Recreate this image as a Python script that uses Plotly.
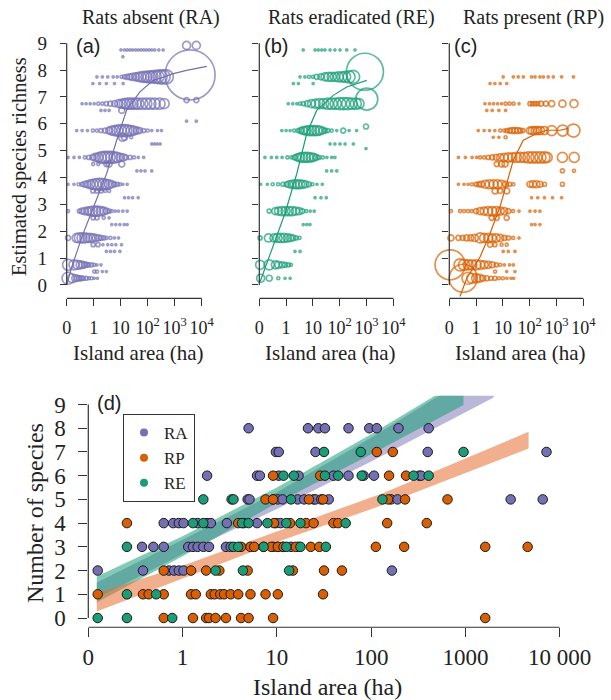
import plotly.graph_objects as go

W, H = 611, 700
PURPLE = "#7570b3"
ORANGE = "#d95f02"
GREEN = "#1b9e77"
INK = "#222222"
AXIS = "#333333"
SERIF = "Liberation Serif, Times New Roman, serif"
SANS = "Liberation Sans, Arial, sans-serif"

# ---- tick labels (x positions are log10 of island area; "0" sits one decade below 1 ha)
TOP_TICKVALS = [-1, 0, 1, 2, 3, 4]
TOP_TICKTEXT = ["0", "1", "10", "10<sup>2</sup>", "10<sup>3</sup>", "10<sup>4</sup>"]
D_TICKTEXT = ["0", "1", "10", "100", "1000", "10 000"]
RICHNESS_TICKS = list(range(10))

# ---- panels (a)-(c): estimated richness rows; each ring = (log10 area, ring diameter px)
A_RINGS = [
    (0.25, [(-0.95, 12), (-0.8, 9), (-0.68, 7), (-0.6, 6), (-0.53, 5), (-0.46, 5), (-0.38, 4), (-0.28, 4),
            (-0.18, 3), (-0.08, 3), (0.02, 2), (0.14, 2)]),
    (0.5, [(0.02, 3), (0.12, 3), (0.32, 2), (0.47, 2)]),
    (0.75, [(-0.95, 11), (-0.73, 10), (-0.6, 9), (-0.5, 8), (-0.42, 7), (-0.34, 6), (-0.26, 5), (-0.18, 4),
            (-0.08, 4), (0.02, 3), (0.12, 2), (0.27, 2)]),
    (1.25, [(0.47, 2), (0.62, 2), (0.77, 2), (0.97, 2)]),
    (1.5, [(-0.02, 4), (0.16, 4), (0.34, 2), (0.52, 2), (0.67, 2), (0.82, 2), (1.03, 2)]),
    (1.75, [(-0.95, 5), (-0.63, 9), (-0.53, 10), (-0.43, 10), (-0.33, 10), (-0.23, 9), (-0.13, 9), (-0.03, 8),
            (0.07, 7), (0.17, 6), (0.27, 5), (0.37, 4), (0.47, 3), (0.62, 3), (0.77, 2), (0.92, 2)]),
    (2.25, [(0.67, 2), (0.82, 2), (0.97, 2), (1.13, 2), (1.24, 2)]),
    (2.5, [(-0.02, 4), (0.12, 4), (0.37, 3), (0.57, 2)]),
    (2.75, [(-0.95, 3), (-0.53, 4), (-0.43, 6), (-0.33, 7), (-0.23, 8), (-0.13, 9), (-0.03, 10), (0.07, 10),
            (0.17, 10), (0.27, 9), (0.37, 8), (0.47, 6), (0.57, 4), (0.67, 3), (0.8, 2), (0.92, 2), (1.08, 2),
            (1.24, 2)]),
    (3.25, [(1.14, 2), (1.29, 2), (1.44, 2), (1.65, 2)]),
    (3.5, [(-0.03, 4), (0.12, 4), (0.27, 4), (0.42, 3), (0.57, 3)]),
    (3.75, [(-0.95, 2), (-0.73, 2), (-0.56, 3), (-0.43, 4), (-0.33, 6), (-0.23, 7), (-0.13, 9), (-0.03, 10),
            (0.07, 11), (0.17, 12), (0.27, 12), (0.37, 11), (0.47, 10), (0.57, 9), (0.67, 7), (0.77, 5),
            (0.87, 4), (0.97, 3), (1.08, 2), (1.24, 2)]),
    (4.25, [(1.6, 2), (1.75, 2), (1.9, 2), (2.15, 2)]),
    (4.5, [(-0.02, 3), (0.17, 3), (0.47, 5), (0.57, 6), (1.04, 6)]),
    (4.75, [(-0.95, 2), (-0.73, 2), (-0.53, 2), (-0.33, 3), (-0.18, 4), (-0.03, 6), (0.07, 8), (0.17, 9),
            (0.27, 11), (0.37, 12), (0.47, 12), (0.57, 12), (0.67, 12), (0.77, 11), (0.87, 10), (0.98, 8),
            (1.09, 7), (1.19, 5), (1.34, 4), (1.49, 3), (1.65, 2), (1.85, 2)]),
    (5.25, [(2.15, 2), (2.25, 2), (2.35, 2), (2.46, 2)]),
    (5.5, [(1.07, 8), (1.14, 6), (1.39, 3)]),
    (5.75, [(-0.63, 2), (-0.43, 2), (-0.23, 2), (-0.03, 3), (0.12, 3), (0.27, 4), (0.42, 5), (0.57, 7),
            (0.67, 9), (0.77, 10), (0.87, 11), (0.98, 12), (1.09, 12), (1.19, 12), (1.29, 11), (1.39, 10),
            (1.49, 9), (1.6, 7), (1.7, 6), (1.85, 4), (2.0, 3), (2.15, 2), (2.36, 2), (2.51, 2)]),
    (6.1, [(3.44, 2), (3.8, 2)]),
    (6.5, [(0.27, 2), (0.42, 2), (0.57, 2), (1.04, 6)]),
    (6.75, [(-0.43, 2), (-0.28, 2), (-0.13, 2), (0.02, 2), (0.17, 3), (0.32, 3), (0.47, 4), (0.62, 5),
            (0.77, 6), (0.93, 8), (1.04, 9), (1.14, 10), (1.24, 11), (1.34, 11), (1.44, 11), (1.55, 11),
            (1.65, 11), (1.8, 11), (1.95, 11), (2.1, 11), (2.26, 11), (2.44, 11), (2.61, 10)]),
    (6.88, [(3.44, 5), (3.8, 5)]),
    (7.5, [(-0.03, 2), (0.22, 2), (0.47, 2), (0.77, 2), (1.09, 2)]),
    (7.75, [(0.12, 2), (0.32, 2), (0.52, 2), (0.72, 2), (0.87, 2), (1.03, 3), (1.14, 4), (1.24, 5), (1.34, 6),
            (1.44, 7), (1.55, 8), (1.65, 9), (1.75, 10), (1.85, 11), (1.95, 11), (2.05, 12), (2.15, 12),
            (2.26, 13), (2.36, 13), (2.46, 14), (2.57, 14), (2.69, 14)]),
    (7.82, [(3.57, 50)]),
    (8.5, [(1.08, 2)]),
    (8.75, [(1.01, 2), (1.14, 2), (1.24, 2), (1.34, 2), (1.44, 2), (1.55, 2), (1.65, 2), (1.75, 2), (1.85, 2),
            (1.95, 2), (2.05, 2), (2.15, 2), (2.26, 2), (2.41, 2), (2.57, 2)]),
    (8.92, [(3.44, 8), (3.8, 8)]),
]

B_RINGS = [
    (0.25, [(-0.95, 8), (-0.63, 6), (-0.29, 3), (-0.04, 2), (0.15, 2)]),
    (0.75, [(-0.97, 9), (-0.63, 10), (-0.4, 8), (-0.29, 7), (-0.15, 6), (-0.04, 5), (0.08, 4), (0.18, 3)]),
    (1.25, [(0.33, 2), (0.52, 2)]),
    (1.75, [(-0.97, 4), (-0.66, 8), (-0.45, 8), (-0.32, 9), (-0.2, 9), (-0.08, 9), (0.05, 8), (0.15, 7),
            (0.25, 6), (0.37, 4), (0.5, 3)]),
    (2.25, [(0.64, 2), (0.77, 2), (0.89, 2)]),
    (2.75, [(-0.63, 4), (-0.4, 7), (-0.28, 8), (-0.15, 9), (-0.02, 9), (0.1, 9), (0.22, 9), (0.35, 8),
            (0.48, 7), (0.6, 5), (0.75, 3), (0.9, 2), (1.05, 2)]),
    (3.25, [(1.08, 2), (1.3, 2), (1.5, 2)]),
    (3.75, [(-0.95, 2), (-0.7, 2), (-0.5, 3), (-0.3, 3), (-0.12, 4), (0.02, 5), (0.12, 7), (0.22, 8), (0.32, 9),
            (0.42, 9), (0.52, 9), (0.62, 8), (0.72, 7), (0.85, 5), (0.98, 3), (1.15, 2), (1.35, 2)]),
    (4.25, [(1.51, 2), (1.7, 2), (1.89, 2)]),
    (4.75, [(-0.79, 2), (-0.55, 2), (-0.35, 2), (-0.15, 2), (0.05, 3), (0.2, 3), (0.32, 5), (0.42, 7),
            (0.52, 9), (0.62, 10), (0.72, 10), (0.82, 10), (0.92, 9), (1.02, 8), (1.12, 6), (1.22, 4),
            (1.37, 3), (1.52, 2), (1.7, 2), (1.82, 2)]),
    (5.08, [(2.98, 2)]),
    (5.25, [(1.64, 2), (1.82, 2), (2.01, 2), (2.2, 2), (2.51, 2)]),
    (5.75, [(-0.16, 2), (0.0, 2), (0.15, 2), (0.3, 3), (0.45, 4), (0.55, 6), (0.65, 8), (0.75, 9), (0.85, 10),
            (0.95, 10), (1.05, 10), (1.15, 10), (1.25, 9), (1.35, 7), (1.45, 5), (1.55, 4), (1.7, 3),
            (1.89, 2), (2.13, 5), (2.35, 2), (2.63, 2)]),
    (5.9, [(2.98, 5)]),
    (6.75, [(0.08, 2), (0.25, 2), (0.4, 2), (0.52, 3), (0.65, 4), (0.8, 6), (0.95, 8), (1.1, 9), (1.25, 10),
            (1.4, 10), (1.55, 11), (1.7, 11), (1.85, 11), (2.0, 12), (2.15, 12), (2.3, 12), (2.45, 11),
            (2.6, 11), (2.72, 10)]),
    (6.92, [(3.01, 22)]),
    (7.5, [(0.27, 2), (0.46, 2), (1.01, 2)]),
    (7.75, [(0.52, 2), (0.7, 2), (0.85, 3), (1.0, 3), (1.14, 5), (1.3, 6), (1.45, 8), (1.58, 9), (1.7, 9),
            (1.82, 9), (1.95, 10), (2.08, 10), (2.2, 11), (2.35, 12), (2.5, 13)]),
    (7.94, [(2.94, 37)]),
    (8.75, [(0.64, 2), (1.08, 2), (1.2, 2), (1.33, 2), (1.45, 2), (1.64, 2), (1.82, 2), (2.01, 2), (2.26, 2),
            (2.57, 2)]),
]

C_RINGS = [
    (0.25, [(-0.48, 28), (-0.3, 12), (-0.16, 10), (0.0, 9), (0.12, 8), (0.25, 6), (0.4, 5), (0.55, 4),
            (0.7, 4), (0.85, 3), (1.0, 3), (1.15, 2), (1.3, 2), (1.4, 2)]),
    (0.5, [(0.71, 3), (1.14, 2), (1.45, 2)]),
    (0.75, [(-0.97, 30), (-0.6, 12), (-0.45, 11), (-0.3, 10), (-0.16, 10), (0.0, 10), (0.15, 9), (0.3, 8),
            (0.45, 7), (0.6, 6), (0.75, 4), (0.9, 3), (1.05, 2), (1.25, 2), (1.39, 2)]),
    (1.25, [(1.01, 2), (1.2, 2), (1.45, 2)]),
    (1.5, [(0.52, 5), (0.7, 4), (0.95, 3), (1.14, 3)]),
    (1.75, [(-0.94, 6), (-0.66, 5), (-0.5, 5), (-0.35, 6), (-0.2, 6), (-0.05, 7), (0.15, 10), (0.3, 9),
            (0.45, 9), (0.6, 8), (0.75, 8), (0.9, 7), (1.05, 5), (1.2, 4), (1.38, 3), (1.6, 2)]),
    (2.25, [(2.07, 2), (2.2, 2), (2.38, 2)]),
    (2.5, [(0.58, 5), (0.77, 5), (1.14, 5)]),
    (2.75, [(-0.94, 3), (-0.6, 3), (-0.45, 3), (-0.3, 3), (-0.16, 3), (0.0, 5), (0.15, 7), (0.3, 8), (0.45, 9),
            (0.6, 9), (0.75, 9), (0.9, 8), (1.05, 7), (1.2, 5), (1.38, 3), (1.6, 2), (2.01, 2), (2.2, 2),
            (2.38, 2)]),
    (3.25, [(2.07, 2), (2.3, 2), (2.55, 2), (2.85, 2), (3.19, 2)]),
    (3.5, [(0.71, 6), (0.89, 5), (1.14, 6)]),
    (3.75, [(-0.66, 2), (-0.45, 2), (-0.3, 2), (-0.16, 3), (0.0, 4), (0.1, 5), (0.2, 6), (0.35, 8), (0.5, 9),
            (0.65, 9), (0.8, 9), (0.95, 8), (1.1, 6), (1.25, 4), (1.39, 3), (2.01, 6), (2.12, 7), (2.25, 7),
            (2.38, 6), (2.55, 4), (3.22, 4)]),
    (4.25, [(3.22, 4), (3.65, 3)]),
    (4.5, [(0.77, 5), (0.95, 6), (1.08, 6)]),
    (4.75, [(-0.66, 2), (-0.4, 2), (-0.15, 2), (0.02, 2), (0.15, 3), (0.3, 3), (0.45, 4), (0.6, 5), (0.75, 6),
            (0.9, 7), (1.05, 8), (1.2, 9), (1.35, 9), (1.5, 10), (1.65, 10), (1.8, 10), (1.95, 11), (2.1, 11),
            (2.25, 11), (2.4, 11), (2.55, 11), (2.65, 10), (3.22, 10), (3.66, 10)]),
    (5.5, [(0.64, 2), (0.85, 2), (1.1, 3)]),
    (5.75, [(0.08, 2), (0.3, 2), (0.5, 2), (0.7, 2), (0.9, 3), (1.05, 3), (1.15, 4), (1.25, 5), (1.35, 6),
            (1.45, 6), (1.55, 6), (1.65, 5), (1.75, 4), (2.01, 7), (2.1, 8), (2.2, 8), (2.3, 8), (2.4, 8),
            (2.55, 8), (2.82, 10), (3.23, 11), (3.63, 13)]),
    (6.5, [(0.4, 2), (0.6, 2), (0.85, 2), (1.1, 2)]),
    (6.75, [(0.33, 2), (0.5, 2), (0.65, 2), (0.8, 2), (0.95, 2), (1.1, 3), (1.25, 3), (1.4, 3), (1.6, 2),
            (2.01, 4), (2.1, 4), (2.2, 4), (2.3, 4), (2.42, 5), (2.6, 5), (2.82, 6), (3.22, 7), (3.65, 8)]),
    (7.5, [(0.52, 2), (0.7, 2), (0.9, 2), (1.14, 2)]),
    (7.75, [(1.01, 2), (1.39, 2), (1.57, 2), (1.76, 2), (2.07, 2), (2.2, 2), (2.38, 2), (2.51, 2), (2.69, 2),
            (2.88, 2), (3.19, 2), (3.63, 2)]),
]

# fitted richness curves for panels (a)-(c)
A_CURVE_X = [-1.0, -0.81, -0.39, 0.11, 0.48, 0.85, 1.22, 1.71, 2.21, 2.58, 2.95, 3.44, 4.19]
A_CURVE_Y = [0.0, 0.68, 1.92, 3.16, 4.15, 5.39, 6.51, 7.19, 7.62, 7.74, 7.87, 7.99, 8.14]
B_CURVE_X = [-0.97, -0.54, -0.04, 0.40, 0.77, 1.14, 1.76, 2.26, 3.01]
B_CURVE_Y = [0.12, 1.30, 2.67, 4.15, 5.64, 6.50, 7.06, 7.37, 7.62]
C_CURVE_X = [-0.60, -0.35, 0.15, 0.52, 0.89, 1.14, 1.39, 1.76, 2.26, 2.63, 3.13, 3.44]
C_CURVE_Y = [-0.43, 0.25, 1.05, 1.92, 2.91, 3.78, 4.65, 5.39, 5.64, 5.76, 5.76, 5.83]

# ---- panel (d): observed species counts per island (log10 area) by rat status
RA_POINTS = {
    8: [0.70, 1.33, 1.44, 1.51, 1.76, 1.98, 2.06, 2.29, 2.61],
    7: [0.99, 1.02, 1.41, 2.60, 3.86],
    6: [0.26, 0.79, 0.82, 1.02, 1.23, 1.60, 1.76, 1.92, 2.03, 2.51, 2.53],
    5: [0.69, 0.71, 0.96, 1.01, 1.06, 1.22, 1.29, 1.39, 1.41, 1.47, 1.55, 2.21, 2.28, 3.48, 3.82],
    4: [-0.20, -0.10, -0.04, 0.01, 0.16, 0.26, 0.30, 0.47, 0.65, 0.79, 0.99, 1.04],
    3: [-0.43, -0.31, -0.20, 0.06, 0.11, 0.16, 0.22, 0.28, 0.46, 0.51, 0.96, 1.01, 1.06, 1.15, 1.23],
    2: [-0.90, -0.42, -0.145, -0.09, -0.04, 0.01, 2.22],
}
RP_POINTS = {
    7: [2.06, 2.23],
    6: [0.96, 1.46, 2.19, 2.37],
    5: [0.88, 0.96, 1.34, 1.49, 2.18, 2.36, 2.81],
    4: [-0.59, 0.59, 0.97, 1.14, 1.31, 1.39, 1.60, 1.65, 2.17, 2.59],
    3: [0.62, 0.72, 0.76, 0.86, 0.94, 1.01, 1.07, 1.20, 1.36, 1.45, 2.05, 2.35, 3.21, 3.66],
    2: [-0.20, 0.09, 0.25, 0.39, 0.69, 1.17, 1.50, 1.69],
    1: [-0.90, -0.42, -0.36, -0.20, 0.09, 0.14, 0.30, 0.34, 0.40, 0.44, 0.51, 0.59, 0.72, 0.88, 1.01, 1.49],
    0: [-0.20, 0.11, 0.25, 0.28, 0.35, 0.46, 0.62, 0.70, 0.96, 3.21],
}
RE_POINTS = {
    7: [1.50, 1.89, 2.98],
    6: [1.07, 1.18, 1.51, 1.65, 1.90, 2.45, 2.61],
    5: [0.22, 0.52, 0.54, 1.15, 2.12],
    4: [0.11, 0.22, 0.63, 0.70, 0.90, 1.10, 1.25, 1.73],
    3: [-0.59, 0.54, 0.59, 0.86, 1.10, 1.25, 1.52],
    2: [0.35, 0.64, 1.13],
    1: [-0.59, -0.28],
    0: [-0.90, -0.59, -0.11],
}

# confidence bands of the fitted richness-area relationships
RA_BAND_X = [-0.91, 0.0, 1.0, 2.0, 3.3]
RA_BAND_LO = [0.83, 2.7, 4.6, 6.6, 9.3]
RA_BAND_HI = [1.5, 3.3, 5.3, 7.6, 10.8]
RE_BAND_X = [-0.91, 0.0, 1.0, 2.0, 2.98]
RE_BAND_LO = [0.65, 2.6, 4.85, 6.9, 8.98]
RE_BAND_HI = [1.75, 3.45, 5.5, 7.75, 10.1]
RP_BAND_X = [-0.91, 0.0, 1.0, 2.13, 3.67]
RP_BAND_LO = [0.27, 1.65, 3.2, 4.77, 7.15]
RP_BAND_HI = [1.05, 2.2, 3.65, 5.27, 7.85]

fig = go.Figure()


def add_rings(rows, color, xa, ya):
    xs, ys, ss = [], [], []
    for level, rings in rows:
        for x, s in rings:
            xs.append(x)
            ys.append(level)
            ss.append(s)
    fig.add_trace(go.Scatter(
        x=xs, y=ys, mode="markers", xaxis=xa, yaxis=ya, cliponaxis=False,
        marker=dict(symbol="circle-open", size=ss, color=color, line=dict(width=1.7, color=color)),
        showlegend=False, hoverinfo="skip"))


def add_curve(xs, ys, color, xa, ya):
    fig.add_trace(go.Scatter(x=xs, y=ys, mode="lines", xaxis=xa, yaxis=ya,
                             line=dict(color=color, width=1.2), showlegend=False, hoverinfo="skip"))


add_rings(A_RINGS, PURPLE, "x", "y")
add_curve(A_CURVE_X, A_CURVE_Y, PURPLE, "x", "y")
add_rings(B_RINGS, GREEN, "x2", "y2")
add_curve(B_CURVE_X, B_CURVE_Y, GREEN, "x2", "y2")
add_rings(C_RINGS, ORANGE, "x3", "y3")
add_curve(C_CURVE_X, C_CURVE_Y, ORANGE, "x3", "y3")


def add_band(xs, lo, hi, fill):
    fig.add_trace(go.Scatter(x=xs + xs[::-1], y=lo + hi[::-1], mode="lines", fill="toself",
                             fillcolor=fill, line=dict(width=0), xaxis="x4", yaxis="y4",
                             showlegend=False, hoverinfo="skip"))


add_band(RA_BAND_X, RA_BAND_LO, RA_BAND_HI, "rgba(117,112,179,0.50)")
add_band(RE_BAND_X, RE_BAND_LO, RE_BAND_HI, "rgba(27,158,119,0.55)")
add_band(RP_BAND_X, RP_BAND_LO, RP_BAND_HI, "rgba(230,110,50,0.55)")


def add_points(points, color):
    xs, ys = [], []
    for level, vals in points.items():
        xs += vals
        ys += [level] * len(vals)
    fig.add_trace(go.Scatter(x=xs, y=ys, mode="markers", xaxis="x4", yaxis="y4", cliponaxis=False,
                             marker=dict(size=9.5, color=color, line=dict(width=1, color="#1a1a1a")),
                             showlegend=False, hoverinfo="skip"))


add_points(RA_POINTS, PURPLE)
add_points(RP_POINTS, ORANGE)
add_points(RE_POINTS, GREEN)

for name, color in [("RA", PURPLE), ("RP", ORANGE), ("RE", GREEN)]:
    fig.add_trace(go.Scatter(x=[None], y=[None], mode="markers", name=name, xaxis="x4", yaxis="y4",
                             marker=dict(size=8, color=color)))


def px(x):
    return x / W


def py(y):
    return 1 - y / H


TOP_Y_DOMAIN = [py(298.4), py(35.2)]


def top_xaxis(left, right, anchor):
    return dict(domain=[px(left), px(right)], anchor=anchor, range=[-1, 4.2], tickmode="array",
                tickvals=TOP_TICKVALS, ticktext=TOP_TICKTEXT, ticks="outside", ticklen=7, tickwidth=1.2,
                tickcolor=AXIS, showgrid=False, zeroline=False, showline=False, tickangle=0,
                automargin=False, tickfont=dict(family=SERIF, size=18, color=INK), ticklabelstandoff=6)


def top_yaxis(anchor, labels):
    return dict(domain=TOP_Y_DOMAIN, anchor=anchor, range=[-0.5, 9.3], tickmode="array",
                tickvals=RICHNESS_TICKS, ticks="outside", ticklen=6, tickwidth=1.2, tickcolor=AXIS,
                showgrid=False, zeroline=False, showline=False, showticklabels=labels, automargin=False,
                tickfont=dict(family=SERIF, size=19, color=INK), ticklabelstandoff=9)


fig.update_layout(
    width=W, height=H, autosize=False, margin=dict(l=0, r=0, t=0, b=0, pad=0, autoexpand=False),
    paper_bgcolor="white", plot_bgcolor="white",
    xaxis=top_xaxis(66.7, 207.1, "y"),
    yaxis=top_yaxis("x", True),
    xaxis2=top_xaxis(259.3, 398.7, "y2"),
    yaxis2=top_yaxis("x2", False),
    xaxis3=top_xaxis(449.3, 588.7, "y3"),
    yaxis3=top_yaxis("x3", False),
    xaxis4=dict(domain=[px(88.3), px(559.7)], anchor="y4", range=[-1, 4], tickmode="array",
                tickvals=TOP_TICKVALS, ticktext=D_TICKTEXT, ticks="outside", ticklen=9, tickwidth=1.2,
                tickcolor=AXIS, showgrid=False, zeroline=False, showline=False, tickangle=0,
                automargin=False, tickfont=dict(family=SERIF, size=23, color=INK), ticklabelstandoff=0),
    yaxis4=dict(domain=[py(627.25), py(395.75)], anchor="x4", range=[-0.39, 9.37], tickmode="array",
                tickvals=RICHNESS_TICKS, ticks="outside", ticklen=9, tickwidth=1.2, tickcolor=AXIS,
                showgrid=False, zeroline=False, showline=False, automargin=False,
                tickfont=dict(family=SERIF, size=23, color=INK), ticklabelstandoff=8),
    legend=dict(x=px(123), y=py(414), xanchor="left", yanchor="top", bgcolor="white",
                bordercolor=AXIS, borderwidth=1, font=dict(family=SERIF, size=17, color=INK),
                tracegroupgap=0, itemwidth=30),
    showlegend=True,
)

# axis lines spanning the tick range only
for xa, ya in [("x", "y"), ("x2", "y2"), ("x3", "y3"), ("x4", "y4")]:
    fig.add_shape(type="line", xref=xa, yref=f"{ya} domain", x0=-1, x1=4, y0=0, y1=0,
                  line=dict(color=AXIS, width=1.2))
    fig.add_shape(type="line", xref=f"{xa} domain", yref=ya, x0=0, x1=0, y0=0, y1=9,
                  line=dict(color=AXIS, width=1.2))


def note(text, x, y, size, family=SERIF, angle=0):
    fig.add_annotation(text=text, x=px(x), y=py(y), xref="paper", yref="paper", showarrow=False,
                       xanchor="center", yanchor="middle", textangle=angle,
                       font=dict(family=family, size=size, color=INK))


note("Rats absent (RA)", 151, 18, 20)
note("Rats eradicated (RE)", 351, 18, 20)
note("Rats present (RP)", 533, 18, 20)
note("(a)", 88, 46, 20, SANS)
note("(b)", 275.5, 46, 20, SANS)
note("(c)", 465, 46, 20, SANS)
note("(d)", 109.5, 403, 20, SANS)
note("Estimated species richness", 20, 167, 20.5, angle=-90)
note("Island area (ha)", 138, 353, 21)
note("Island area (ha)", 330, 353, 21)
note("Island area (ha)", 520, 353, 21)
note("Number of species", 35, 513, 24, angle=-90)
note("Island area (ha)", 327, 687, 24)

fig.write_html("out.html", config={"responsive": False, "displayModeBar": False})
